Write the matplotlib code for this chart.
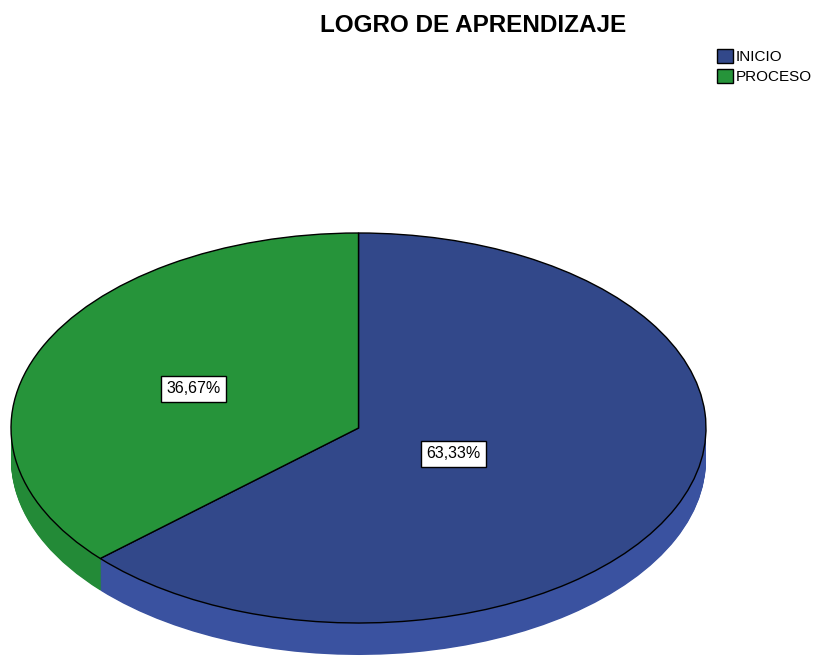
import matplotlib
matplotlib.use("Agg")
import matplotlib.pyplot as plt
import numpy as np

# data
labels = ["INICIO", "PROCESO"]
counts = [19, 11]
top_colors = ["#32488a", "#26943a"]
side_colors = ["#3a52a0", "#238a37"]
title = "LOGRO DE APRENDIZAJE"

narrow = ["Liberation Sans Narrow", "Liberation Sans", "DejaVu Sans"]

W, H = 815, 656
fig = plt.figure(figsize=(W / 100, H / 100), dpi=100)

# ellipse geometry in pixels
cx, rx, cy, ry, depth_px = 358.5, 347.5, 428, 195, 32
depth = depth_px / ry
ax = fig.add_axes([(cx - rx) / W, (H - (cy + ry + depth_px)) / H,
                   2 * rx / W, (2 * ry + depth_px) / H])

# side wall: stacked pies
for k in np.linspace(depth, 0.01, 40):
    ax.pie(counts, colors=side_colors, startangle=90, counterclock=False,
           center=(0, -k), wedgeprops=dict(linewidth=0))

# top face
pct = 100 * np.array(counts) / sum(counts)
wedges, _ = ax.pie(counts, colors=top_colors, startangle=90, counterclock=False,
                   wedgeprops=dict(linewidth=1.0, edgecolor="black"))

ax.set_aspect("auto")
ax.set_xlim(-1, 1)
ax.set_ylim(-1 - depth, 1)
ax.axis("off")

# percentage labels
label_r = [0.30, 0.52]
for w, p, r in zip(wedges, pct, label_r):
    ang = np.deg2rad((w.theta1 + w.theta2) / 2)
    ax.text(r * np.cos(ang), r * np.sin(ang) - 0.01, f"{p:.2f}%".replace(".", ","),
            ha="center", va="center", fontsize=11.5, family=narrow,
            bbox=dict(boxstyle="square,pad=0.35", fc="white", ec="black", lw=1))

fig.text(473 / W, 1 - 25 / H, title, ha="center", va="center",
         fontsize=17.5, fontweight="bold", family=narrow)

fig.legend(wedges, labels, loc="upper left", bbox_to_anchor=(717 / W, 1 - 49 / H),
           frameon=False, prop=dict(family=narrow, size=11),
           handlelength=1.05, handleheight=1.05, handletextpad=0.2,
           labelspacing=0.3, borderpad=0, borderaxespad=0)

fig.savefig("out.png", dpi=100)
